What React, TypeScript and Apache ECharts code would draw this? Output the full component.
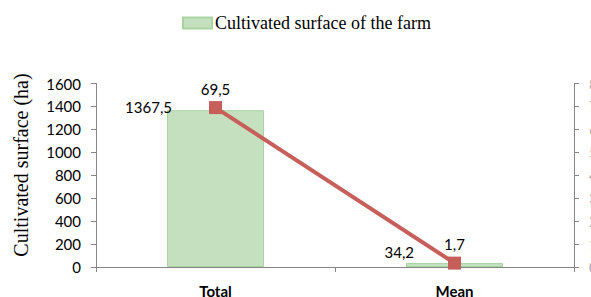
import React, { useEffect, useRef } from "react";
import * as echarts from "echarts";

const categories = ["Total", "Mean"];
const surfaceValues = [1367.5, 34.2];
const lineValues = [69.5, 1.7];
const leftTicks = { min: 0, max: 1600, interval: 200 };
const rightTicks = { min: 0, max: 80, interval: 10 };
const legendName = "Cultivated surface of the farm";
const axisName = "Cultivated surface (ha)";

const fmt = (v: number) => String(v).replace(".", ",");

export default function App() {
  const ref = useRef<HTMLDivElement>(null);
  useEffect(() => {
    if (!ref.current) return;
    const chart = echarts.init(ref.current, null, { renderer: "svg" });
    const axisColor = "#868686";
    const labelFont = { fontFamily: "Lato", fontSize: 15, color: "#000" };
    const barLabelPos = [
      [5, -3],
      [8, -11],
    ];
    chart.setOption({
      animation: false,
      backgroundColor: "#fff",
      grid: {
        left: 96,
        right: 17,
        top: 83.5,
        bottom: 30,
        containLabel: false,
        outerBoundsMode: "none",
      },
      legend: {
        data: [{ name: legendName, icon: "rect" }],
        left: 182,
        top: 14,
        padding: 0,
        itemWidth: 29,
        itemHeight: 11,
        itemGap: 4,
        textStyle: {
          fontFamily: "Liberation Serif",
          fontSize: 18,
          color: "#000",
          padding: [0, 0, 0, -2],
        },
      },
      graphic: [
        {
          type: "text",
          x: 21,
          y: 165,
          rotation: Math.PI / 2,
          style: {
            text: axisName,
            fontFamily: "Liberation Serif",
            fontSize: 20,
            fill: "#000",
            textAlign: "center",
            textVerticalAlign: "middle",
          },
        },
      ],
      xAxis: {
        type: "category",
        data: categories,
        boundaryGap: true,
        axisLine: { lineStyle: { color: axisColor, width: 1 } },
        axisTick: { show: true, length: 5, lineStyle: { color: axisColor } },
        axisLabel: { ...labelFont, fontWeight: "bold", margin: 16 },
      },
      yAxis: [
        {
          type: "value",
          ...leftTicks,
          position: "left",
          splitLine: { show: false },
          axisLine: { show: true, lineStyle: { color: axisColor } },
          axisTick: { show: true, length: 5, lineStyle: { color: axisColor } },
          axisLabel: { ...labelFont, margin: 15, formatter: (v: number) => String(v) },
        },
        {
          type: "value",
          ...rightTicks,
          position: "right",
          splitLine: { show: false },
          axisLine: { show: true, lineStyle: { color: axisColor } },
          axisTick: { show: true, length: 5, lineStyle: { color: axisColor } },
          axisLabel: {
            ...labelFont,
            color: "#aaa",
            margin: 15,
            formatter: (v: number) => String(v),
          },
        },
      ],
      series: [
        {
          name: legendName,
          type: "bar",
          barWidth: 97,
          data: surfaceValues.map((v, i) => ({
            value: v,
            label: {
              show: true,
              position: barLabelPos[i],
              align: "right",
              verticalAlign: "middle",
              formatter: (p: any) => fmt(p.value),
              ...labelFont,
            },
          })),
          itemStyle: { color: "#c4e0bf", borderColor: "#a9d4a2", borderWidth: 1 },
        },
        {
          name: "line",
          type: "line",
          yAxisIndex: 1,
          data: lineValues,
          symbol: "rect",
          symbolSize: 13,
          lineStyle: { color: "#c65f5a", width: 4 },
          itemStyle: { color: "#c65f5a" },
          label: {
            show: true,
            position: "top",
            distance: 5,
            formatter: (p: any) => fmt(p.value),
            ...labelFont,
          },
        },
      ],
    });
    return () => chart.dispose();
  }, []);
  return (
    <div
      ref={ref}
      style={{ position: "absolute", left: 0, top: 0, width: 591, height: 297 }}
    />
  );
}
